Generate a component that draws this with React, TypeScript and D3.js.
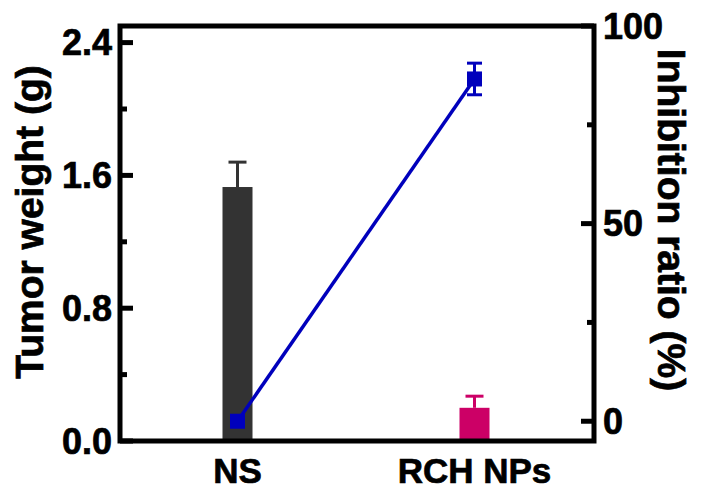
import * as d3 from 'd3';
import React, { useEffect, useRef } from 'react';

// groups on the x axis
const groups = ['NS', 'RCH NPs'];
// tumor weight (g), mean and sd
const weightMean = [1.53, 0.2];
const weightSd = [0.15, 0.07];
const barColors = ['#333333', '#cc0066'];
// inhibition ratio (%), mean and sd
const inhibMean = [0, 86.6];
const inhibSd = [0, 4];
// axis ticks
const leftTicks = [0, 0.4, 0.8, 1.2, 1.6, 2.0, 2.4];
const leftLabeled = [0, 0.8, 1.6, 2.4];
const rightTicks = [0, 25, 50, 75, 100];
const rightLabeled = [0, 50, 100];

export default function App() {
    const svgRef = useRef<SVGSVGElement>(null);
    const width = 703;
    const height = 491;
    const margin = { top: 26, right: 109, bottom: 50, left: 120 };
    const font = '"Liberation Sans", Arial, sans-serif';

    useEffect(() => {
        const svg = d3.select(svgRef.current);
        svg.selectAll('*').remove();

        const x0 = margin.left;
        const x1 = width - margin.right;
        const y0 = height - margin.bottom;
        const y1 = margin.top;

        const xScale = d3.scalePoint<string>()
            .domain(groups)
            .range([x0 - 1, x1 - 1])
            .padding(0.5);

        const yLeft = d3.scaleLinear().domain([0, 2.5]).range([y0, y1]);
        const yRight = d3.scaleLinear().domain([-5, 100]).range([y0, y1]);

        const barW = 30;

        const boldText = (sel: any, size: number) => sel
            .attr('font-family', font).attr('font-weight', 'bold')
            .attr('font-size', size)
            .attr('stroke', '#000').attr('stroke-width', 0.7);

        // bars + error bars
        groups.forEach((g, i) => {
            const cx = xScale(g)!;
            const top = yLeft(weightMean[i]);
            const errTop = yLeft(weightMean[i] + weightSd[i]);
            svg.append('line')
                .attr('x1', cx).attr('x2', cx)
                .attr('y1', top).attr('y2', errTop)
                .attr('stroke', barColors[i]).attr('stroke-width', 3);
            svg.append('line')
                .attr('x1', cx - 9).attr('x2', cx + 9)
                .attr('y1', errTop).attr('y2', errTop)
                .attr('stroke', barColors[i]).attr('stroke-width', 3);
            svg.append('rect')
                .attr('x', cx - barW / 2)
                .attr('y', top)
                .attr('width', barW)
                .attr('height', y0 - top)
                .attr('fill', barColors[i]);
        });

        // inhibition line
        const blue = '#0000bc';
        const line = d3.line<number>()
            .x((d, i) => xScale(groups[i])!)
            .y(d => yRight(d));
        svg.append('path')
            .datum(inhibMean)
            .attr('fill', 'none')
            .attr('stroke', blue)
            .attr('stroke-width', 3.5)
            .attr('d', line);

        inhibMean.forEach((v, i) => {
            const cx = xScale(groups[i])!;
            if (inhibSd[i] > 0) {
                const ya = yRight(v + inhibSd[i]);
                const yb = yRight(v - inhibSd[i]);
                svg.append('line')
                    .attr('x1', cx).attr('x2', cx).attr('y1', ya).attr('y2', yb)
                    .attr('stroke', blue).attr('stroke-width', 3);
                [ya, yb].forEach(yy => {
                    svg.append('line')
                        .attr('x1', cx - 7.5).attr('x2', cx + 7.5)
                        .attr('y1', yy).attr('y2', yy)
                        .attr('stroke', blue).attr('stroke-width', 3);
                });
            }
            svg.append('rect')
                .attr('x', cx - 7.5).attr('y', yRight(v) - 7.5)
                .attr('width', 15).attr('height', 15)
                .attr('fill', blue);
        });

        // frame
        svg.append('path')
            .attr('d', `M${x0},${y0}V${y1}H${x1}V${y0}Z`)
            .attr('fill', 'none')
            .attr('stroke', '#000')
            .attr('stroke-width', 5)
            .attr('stroke-linejoin', 'miter');

        // left ticks (inward)
        leftTicks.forEach(t => {
            const major = leftLabeled.some(l => Math.abs(l - t) < 1e-6);
            svg.append('line')
                .attr('x1', x0).attr('x2', x0 + (major ? 13 : 7))
                .attr('y1', yLeft(t)).attr('y2', yLeft(t))
                .attr('stroke', '#000').attr('stroke-width', 5);
            if (major) {
                svg.append('text')
                    .attr('x', x0 - 8).attr('y', yLeft(t))
                    .attr('text-anchor', 'end')
                    .attr('dominant-baseline', 'central')
                    .call(boldText, 36)
                    .text(d3.format('.1f')(t));
            }
        });

        // right ticks (inward)
        rightTicks.forEach(t => {
            const major = rightLabeled.includes(t);
            svg.append('line')
                .attr('x1', x1).attr('x2', x1 - (major ? 13 : 7))
                .attr('y1', yRight(t)).attr('y2', yRight(t))
                .attr('stroke', '#000').attr('stroke-width', 5);
            if (major) {
                svg.append('text')
                    .attr('x', x1 + 9).attr('y', yRight(t))
                    .attr('dominant-baseline', 'central')
                    .call(boldText, 36)
                    .text(t);
            }
        });

        // x labels
        groups.forEach(g => {
            svg.append('text')
                .attr('x', xScale(g)!).attr('y', y0 + 42)
                .attr('text-anchor', 'middle')
                .call(boldText, 35)
                .text(g);
        });

        // axis titles
        svg.append('text')
            .attr('transform', `translate(43,222) rotate(-90)`)
            .attr('text-anchor', 'middle')
            .call(boldText, 39)
            .text('Tumor weight (g)');
        svg.append('text')
            .attr('transform', `translate(658,220) rotate(90)`)
            .attr('text-anchor', 'middle')
            .call(boldText, 39)
            .text('Inhibition ratio (%)');
    }, []);

    return (
        <svg ref={svgRef} width={width} height={height}
            style={{ position: 'absolute', left: 0, top: 0, background: '#fff' }} />
    );
}
